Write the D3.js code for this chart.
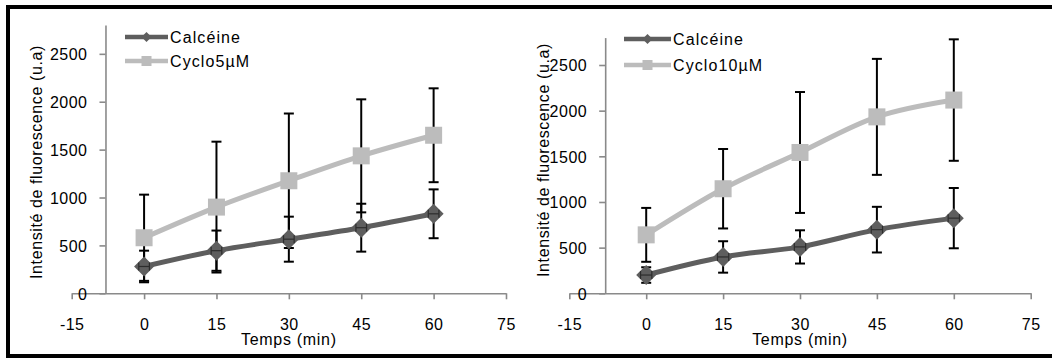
<!DOCTYPE html>
<html><head><meta charset="utf-8">
<script src="https://cdn.jsdelivr.net/npm/d3@7/dist/d3.min.js"></script>
<style>
html,body{margin:0;padding:0;background:#fff;}
svg{display:block;font-family:"Liberation Sans",Arial,sans-serif;}
</style></head>
<body><svg id="c" width="1052" height="358"></svg>
<script>
// ---- data ----
const times = [0, 15, 30, 45, 60];
const xTicks = [-15, 0, 15, 30, 45, 60, 75];
const yTicks = [0, 500, 1000, 1500, 2000, 2500];
const xTitle = "Temps (min)";
const yTitle = "Intensité de fluorescence (u.a)";
// left panel
const calceineA = [280, 445, 565, 685, 830];
const calceineAErr = [165, 210, 235, 250, 255];
const cyclo5 = [580, 900, 1175, 1435, 1650];
const cyclo5Err = [450, 683, 702, 590, 490];
// right panel
const calceineB = [200, 398, 508, 697, 823];
const calceineBErr = [85, 172, 182, 250, 330];
const cyclo10 = [640, 1145, 1542, 1932, 2116];
const cyclo10Err = [295, 435, 662, 635, 665];
const calceineXErr = [1.1, 1.1, 1.1, 1.1, 1.1];
const legendA = ["Calcéine", "Cyclo5µM"];
const legendB = ["Calcéine", "Cyclo10µM"];

const svg = d3.select("#c");
const dark = "#5e5e5e", light = "#bcbcbc", axisCol = "#8a8a8a";

// outer frame
svg.append("rect").attr("x", 8).attr("y", 7).attr("width", 1060).attr("height", 349)
  .attr("fill", "none").attr("stroke", "#000").attr("stroke-width", 4);

function panel(cfg) {
  const x = d3.scaleLinear().domain([-15, 75]).range([cfg.x0, cfg.x1]);
  const y = d3.scaleLinear().domain([0, 2800]).range([cfg.y0, cfg.y1]);
  const g = svg.append("g");

  const xa = g.append("g").attr("transform", `translate(0,${y(0)})`)
    .call(d3.axisBottom(x).tickValues(xTicks).tickSize(6).tickSizeOuter(0).tickPadding(19).tickFormat(d => String(d)));
  const ya = g.append("g").attr("transform", `translate(${x(-8)},0)`)
    .call(d3.axisLeft(y).tickValues(yTicks).tickSize(6).tickSizeOuter(0).tickPadding(12).tickFormat(d => String(d)));
  [xa, ya].forEach(a => {
    a.select(".domain").attr("stroke", axisCol).attr("stroke-width", 1.6);
    a.selectAll(".tick line").attr("stroke", axisCol).attr("stroke-width", 1.6);
    a.selectAll(".tick text").attr("fill", "#000").style("font-size", "16px").style("letter-spacing", "0.5px")
      .style("font-family", "'Liberation Sans',Arial,sans-serif");
  });
  ya.selectAll(".tick text").attr("dy", "0.36em");

  g.append("text").attr("x", (x(15) + x(45)) / 2).attr("y", 345).attr("text-anchor", "middle")
    .style("font-size", "16px").style("letter-spacing", "0.7px").text(xTitle);
  g.append("text").attr("transform", `translate(${cfg.ytx},${cfg.yty}) rotate(-90)`)
    .attr("text-anchor", "middle").attr("dy", "0.35em")
    .style("font-size", "16px").style("letter-spacing", "0.6px").text(yTitle);

  const line = d3.line().x((d, i) => x(times[i])).y(d => y(d)).curve(d3.curveCatmullRom.alpha(0.5));
  const series = [
    {v: cfg.calc, e: cfg.calcErr, col: dark, shape: "diamond", xe: calceineXErr},
    {v: cfg.cyc, e: cfg.cycErr, col: light, shape: "square"}
  ];
  series.forEach(s => {
    g.append("path").datum(s.v).attr("d", line).attr("fill", "none")
      .attr("stroke", s.col).attr("stroke-width", 5).attr("stroke-linejoin", "round");
  });
  series.forEach(s => {
    const eb = g.append("g").attr("stroke", "#000").attr("stroke-width", 2);
    s.v.forEach((v, i) => {
      const cx = x(times[i]);
      eb.append("line").attr("x1", cx).attr("x2", cx).attr("y1", y(v - s.e[i])).attr("y2", y(v + s.e[i]));
      [v - s.e[i], v + s.e[i]].forEach(w => eb.append("line").attr("x1", cx - 5).attr("x2", cx + 5).attr("y1", y(w)).attr("y2", y(w)));
    });
  });
  series.forEach(s => {
    s.v.forEach((v, i) => {
      const cx = x(times[i]), cy = y(v);
      if (s.shape === "diamond") {
        g.append("path").attr("d", `M${cx},${cy - 10}L${cx + 10},${cy}L${cx},${cy + 10}L${cx - 10},${cy}Z`).attr("fill", s.col);
      } else {
        g.append("rect").attr("x", cx - 8.5).attr("y", cy - 8.5).attr("width", 17).attr("height", 17).attr("fill", s.col);
      }
    });
    if (s.xe) {
      const eb = g.append("g").attr("stroke", "#222").attr("stroke-width", 1.2).attr("opacity", 0.8);
      s.v.forEach((v, i) => {
        const cy = y(v);
        const a = x(times[i] - s.xe[i]), b = x(times[i] + s.xe[i]);
        eb.append("line").attr("x1", a).attr("x2", b).attr("y1", cy).attr("y2", cy);
        [a, b].forEach(p => eb.append("line").attr("x1", p).attr("x2", p).attr("y1", cy - 4).attr("y2", cy + 4));
      });
    }
  });

  const names = cfg.legend;
  [[dark, "diamond"], [light, "square"]].forEach((d, k) => {
    const ly = cfg.legY[k];
    const lg = g.append("g");
    lg.append("line").attr("x1", cfg.legX0).attr("x2", cfg.legX1).attr("y1", ly).attr("y2", ly)
      .attr("stroke", d[0]).attr("stroke-width", 4.5);
    const mx = (cfg.legX0 + cfg.legX1) / 2;
    if (d[1] === "diamond") lg.append("path").attr("d", `M${mx},${ly - 5}L${mx + 5},${ly}L${mx},${ly + 5}L${mx - 5},${ly}Z`).attr("fill", d[0]);
    else lg.append("rect").attr("x", mx - 5).attr("y", ly - 5).attr("width", 10).attr("height", 10).attr("fill", d[0]);
    lg.append("text").attr("x", cfg.legX1 + 2).attr("y", ly).attr("dy", "0.35em")
      .style("font-size", "16px").style("letter-spacing", "1.1px").text(names[k]);
  });
}

panel({x0: 71.7, x1: 506, y0: 293.3, y1: 25.1, ytx: 36, yty: 162,
  calc: calceineA, calcErr: calceineAErr, cyc: cyclo5, cycErr: cyclo5Err,
  legend: legendA, legX0: 125, legX1: 168, legY: [37, 61]});
panel({x0: 569.3, x1: 1030.7, y0: 293.3, y1: 37.6, ytx: 543, yty: 160,
  calc: calceineB, calcErr: calceineBErr, cyc: cyclo10, cycErr: cyclo10Err,
  legend: legendB, legX0: 624, legX1: 671, legY: [39, 65]});
</script></body></html>
